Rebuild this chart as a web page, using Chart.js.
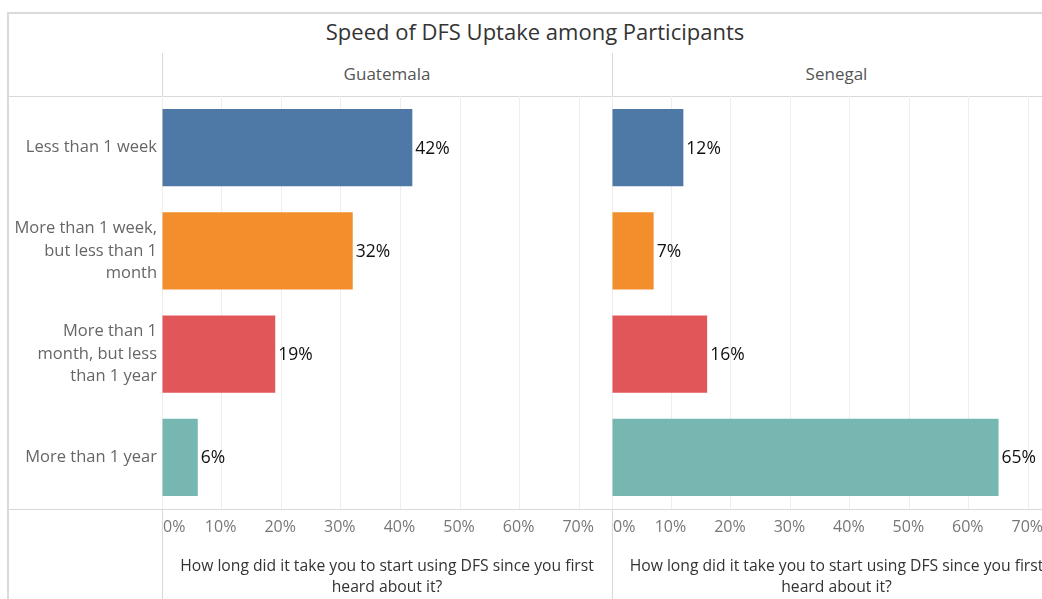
<!DOCTYPE html>
<html>
<head>
<meta charset="utf-8">
<script src="https://cdn.jsdelivr.net/npm/chart.js@4"></script>
<style>
  html, body { margin: 0; padding: 0; overflow: hidden; background: #fff; }
  body { width: 1042px; height: 599px; position: relative; font-family: "Open Sans", sans-serif; }
  .frame { position: absolute; left: 7px; top: 12px; width: 1100px; height: 700px;
           border-left: 2px solid #dadada; border-top: 2px solid #dadada; }
  .title { position: absolute; left: 7px; width: 1056px; top: 16px; text-align: center;
           font-size: 22px; color: #333; }
  .hdr { position: absolute; top: 62px; text-align: center; font-size: 17px; color: #555; }
  .vline { position: absolute; width: 1px; background: #d9d9d9; top: 53px; height: 560px; }
  .hline { position: absolute; left: 7px; width: 1100px; height: 1px; background: #d9d9d9; }
  canvas { position: absolute; top: 96px; }
</style>
</head>
<body>
<div class="frame"></div>
<div class="title">Speed of DFS Uptake among Participants</div>
<div class="hdr" id="hdr1" style="left:162px;width:450px"></div>
<div class="hdr" id="hdr2" style="left:612px;width:449px"></div>
<div class="vline" style="left:162px"></div>
<div class="vline" style="left:612px"></div>
<div class="hline" style="top:96px"></div>
<div class="hline" style="top:509px"></div>
<canvas id="guatemala" width="612" height="503" style="left:0px"></canvas>
<canvas id="senegal" width="449" height="503" style="left:612px"></canvas>

<script>
// data
const countries = ["Guatemala", "Senegal"];
const categories = [
  ["Less than 1 week"],
  ["More than 1 week,", "but less than 1", "month"],
  ["More than 1", "month, but less", "than 1 year"],
  ["More than 1 year"]
];
const guatemalaValues = [42, 32, 19, 6];
const senegalValues = [12, 7, 16, 65];
const tickValues = [0, 10, 20, 30, 40, 50, 60, 70];
const axisTitle = ["How long did it take you to start using DFS since you first", "heard about it?"];
const barColors = ["#4e79a7", "#f28e2b", "#e15759", "#76b7b2"];

const FONT = '"Open Sans", sans-serif';

document.getElementById("hdr1").textContent = countries[0];
document.getElementById("hdr2").textContent = countries[1];

// value labels at the end of each bar
const barLabels = {
  id: "barLabels",
  afterDatasetsDraw(chart) {
    const ctx = chart.ctx;
    const ds = chart.data.datasets[0];
    const meta = chart.getDatasetMeta(0);
    ctx.save();
    ctx.font = "17.5px " + FONT;
    ctx.fillStyle = "#111";
    ctx.textAlign = "left";
    ctx.textBaseline = "middle";
    meta.data.forEach((bar, i) => {
      ctx.fillText(ds.data[i] + "%", bar.x + 3, bar.y + 1);
    });
    ctx.restore();
  }
};

// percent ticks (first one left aligned) and the axis title under each panel
const axisText = {
  id: "axisText",
  afterDraw(chart) {
    const ctx = chart.ctx;
    const x = chart.scales.x;
    const area = chart.chartArea;
    ctx.save();
    ctx.font = "16px " + FONT;
    ctx.fillStyle = "#777";
    ctx.textBaseline = "middle";
    tickValues.forEach((v, i) => {
      const px = x.getPixelForValue(v);
      ctx.textAlign = i === 0 ? "left" : "center";
      ctx.fillText(v + "%", i === 0 ? px + 1 : px - 1, area.bottom + 18);
    });
    ctx.font = "15.7px " + FONT;
    ctx.fillStyle = "#333";
    ctx.textAlign = "center";
    const cx = (area.left + area.right) / 2;
    axisTitle.forEach((line, i) => {
      ctx.fillText(line, cx, area.bottom + 58 + i * 21);
    });
    ctx.restore();
  }
};

function makePanel(id, values, showLabels) {
  return new Chart(document.getElementById(id), {
    type: "bar",
    data: {
      labels: categories,
      datasets: [{
        data: values,
        backgroundColor: barColors,
        barPercentage: 0.75,
        categoryPercentage: 1
      }]
    },
    options: {
      indexAxis: "y",
      responsive: false,
      animation: false,
      layout: { padding: 0 },
      plugins: { legend: { display: false }, tooltip: { enabled: false } },
      scales: {
        x: {
          min: 0,
          max: 75.5,
          afterBuildTicks: s => { s.ticks = tickValues.map(v => ({ value: v })); },
          afterFit: s => { s.height = 90; s.paddingLeft = 0; s.paddingRight = 0; },
          ticks: { display: false },
          grid: { color: "#eeeeee", drawTicks: false },
          border: { display: false }
        },
        y: {
          display: showLabels,
          afterFit: s => {
            s.width = showLabels ? 162 : 0;
            s.paddingTop = 0;
            s.paddingBottom = 0;
          },
          ticks: {
            color: "#666",
            padding: 5,
            autoSkip: false,
            font: { family: FONT, size: 16.5, lineHeight: 1.36 }
          },
          grid: { display: false, drawTicks: false },
          border: { display: false }
        }
      }
    },
    plugins: [barLabels, axisText]
  });
}

makePanel("guatemala", guatemalaValues, true);
makePanel("senegal", senegalValues, false);
</script>
</body>
</html>
